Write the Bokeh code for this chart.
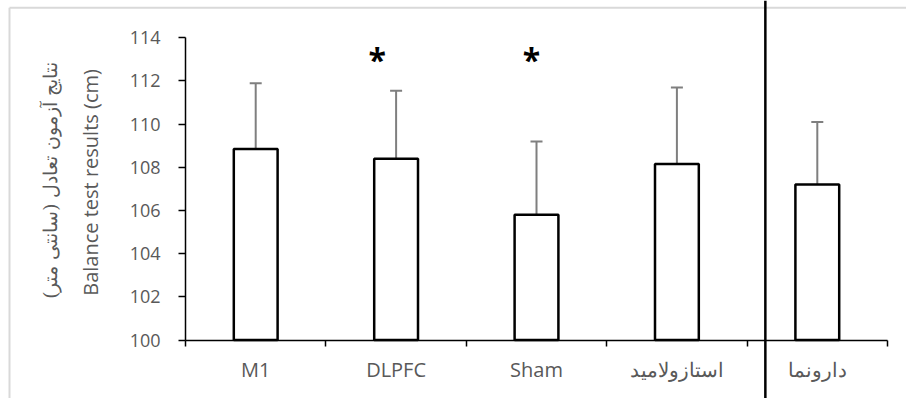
import math
from bokeh.plotting import figure
from bokeh.models import (ColumnDataSource, LinearAxis, FixedTicker, Range1d,
                          Span, Label, Whisker, TeeHead)
from bokeh.core.properties import value
from bokeh.embed import file_html
from bokeh.resources import INLINE

# ---- data ----
groups = ["M1", "DLPFC", "Sham", "استازولامید", "دارونما"]
means = [108.85, 108.4, 105.8, 108.15, 107.2]
sds = [3.05, 3.15, 3.4, 3.55, 2.9]
significant = ["", "*", "*", "", ""]
y_ticks = [100, 102, 104, 106, 108, 110, 112, 114]
y_title = "Balance test results (cm)"
y_title_fa = "نتایج آزمون تعادل (سانتی متر)"

# ---- styles ----
label_gray = "#595959"
star_nudge_px = [0, -19, -5, 0, 0]
divider_at = 4.13
star_level = 112.98

X0, X1 = -1.3177, 5.1353
Y0, Y1 = 97.29, 115.728
BORDER_X, BORDER_Y = -1.2536, 115.39

xs = [i + 0.5 for i in range(len(groups))]
src = ColumnDataSource(dict(x=xs, top=means,
                            upper=[m + s for m, s in zip(means, sds)]))

p = figure(width=906, height=398,
           x_range=Range1d(X0, X1), y_range=Range1d(Y0, Y1),
           x_axis_type=None, y_axis_type=None,
           output_backend="svg", toolbar_location=None, min_border=0)
p.outline_line_color = None
p.background_fill_color = "white"
p.border_fill_color = "white"

# light chart border (top / left)
p.segment(x0=[BORDER_X, BORDER_X], y0=[BORDER_Y, BORDER_Y],
          x1=[X1, BORDER_X], y1=[BORDER_Y, Y0],
          line_color="#d9d9d9", line_width=2)

# y axis
yaxis = LinearAxis(fixed_location=0, bounds=(100, 114),
                   ticker=FixedTicker(ticks=y_ticks, minor_ticks=[]))
yaxis.axis_line_color = "black"
yaxis.axis_line_width = 1.5
yaxis.major_tick_line_color = "black"
yaxis.major_tick_line_width = 1.5
yaxis.major_tick_out = 7
yaxis.major_tick_in = 0
yaxis.major_label_standoff = 18
yaxis.major_label_text_font = "Open Sans"
yaxis.major_label_text_font_size = "18px"
yaxis.major_label_text_color = label_gray
p.add_layout(yaxis, "left")

# x axis at y = 100, ticks at category boundaries
xaxis = LinearAxis(fixed_location=100, bounds=(0, len(groups)),
                   ticker=FixedTicker(ticks=xs, minor_ticks=list(range(len(groups) + 1))),
                   major_label_overrides={x: g for x, g in zip(xs, groups)})
xaxis.axis_line_color = "black"
xaxis.axis_line_width = 1.5
xaxis.major_tick_out = 0
xaxis.major_tick_in = 0
xaxis.major_tick_line_color = None
xaxis.minor_tick_line_color = "black"
xaxis.minor_tick_line_width = 1.5
xaxis.minor_tick_out = 6
xaxis.minor_tick_in = 0
xaxis.major_label_standoff = 10
xaxis.major_label_text_font = "Open Sans"
xaxis.major_label_text_font_size = "20px"
xaxis.major_label_text_color = label_gray
p.add_layout(xaxis, "below")

# bars
p.vbar(x="x", top="top", bottom=100, width=0.312, source=src,
       fill_color="white", line_color="black", line_width=2.5)

# error bars (upper only)
p.add_layout(Whisker(base="x", lower="top", upper="upper", source=src,
                     dimension="height", line_color="#7f7f7f", line_width=2,
                     lower_head=None,
                     upper_head=TeeHead(size=12, line_color="#7f7f7f", line_width=2)))

# significance stars
st = [i for i, s in enumerate(significant) if s]
p.text(x=[xs[i] for i in st], y=[star_level] * len(st),
       text=[significant[i] for i in st],
       x_offset=[star_nudge_px[i] for i in st],
       text_font=value("Open Sans"), text_font_style="bold", text_font_size="32px",
       text_color="black", text_align="center", text_baseline="middle")

# divider line
p.add_layout(Span(location=divider_at, dimension="height", line_color="black", line_width=2.5))

# axis titles
p.add_layout(Label(x=-0.677, y=107.3, text=y_title, angle=math.pi / 2,
                   text_font="Open Sans", text_font_size="20px", text_color=label_gray,
                   text_align="center", text_baseline="middle"))
p.add_layout(Label(x=-0.96, y=107.4, text=y_title_fa, angle=math.pi / 2,
                   text_font="DejaVu Serif", text_font_size="18.5px", text_color=label_gray,
                   text_align="center", text_baseline="middle"))

open("out.html", "w").write(file_html(p, INLINE))
